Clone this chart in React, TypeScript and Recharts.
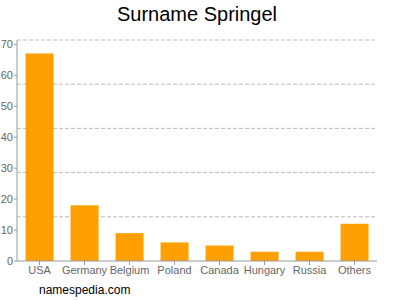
import { BarChart, Bar, CartesianGrid, XAxis, YAxis } from "recharts";

const countries = ["USA", "Germany", "Belgium", "Poland", "Canada", "Hungary", "Russia", "Others"];
const counts = [67, 18, 9, 6, 5, 3, 3, 12];
const yTicks = [0, 10, 20, 30, 40, 50, 60, 70];
const gridValues = [14.28, 28.56, 42.84, 57.12, 71.4];
const yMax = 71.4;

const data = countries.map((name, i) => ({ name, value: counts[i] }));

const font = "'Liberation Sans', Arial, sans-serif";

export default function App() {
  return (
    <div style={{ position: "absolute", left: 0, top: 0, width: 400, height: 300, fontFamily: font }}>
      <div
        style={{
          position: "absolute",
          top: 2,
          left: 0,
          width: 394,
          textAlign: "center",
          fontSize: 20,
          lineHeight: "24px",
          color: "#000",
        }}
      >
        Surname Springel
      </div>
      <BarChart
        width={400}
        height={300}
        data={data}
        margin={{ top: 40, right: 23, bottom: 0, left: 0 }}
        barCategoryGap="19%"
      >
        <CartesianGrid
          vertical={false}
          stroke="#bbb"
          strokeDasharray="4 2"
          horizontalValues={gridValues}
        />
        <XAxis
          dataKey="name"
          height={39}
          interval={0}
          stroke="#999"
          tickSize={4}
          tickMargin={1}
          tick={{ fill: "#666", fontSize: 11, fontFamily: font }}
        />
        <YAxis
          width={17}
          domain={[0, yMax]}
          ticks={yTicks}
          stroke="#999"
          tickSize={3}
          tickMargin={1}
          tick={{ fill: "#666", fontSize: 11, fontFamily: font }}
        />
        <Bar dataKey="value" fill="#ffa000" isAnimationActive={false} />
      </BarChart>
      <div
        style={{
          position: "absolute",
          left: 39,
          top: 283,
          fontSize: 12,
          lineHeight: "14px",
          color: "#000",
        }}
      >
        namespedia.com
      </div>
    </div>
  );
}
